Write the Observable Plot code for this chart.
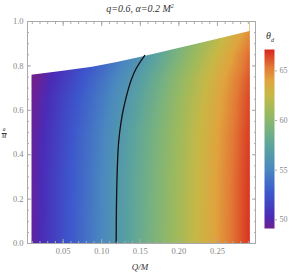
<!DOCTYPE html>
<html><head><meta charset="utf-8">
<script src="https://cdn.jsdelivr.net/npm/d3@7"></script>
<script src="https://cdn.jsdelivr.net/npm/@observablehq/plot@0.6"></script>
<style>
body{margin:0;background:#fff;}
#wrap{position:relative;width:291px;height:275px;overflow:hidden;font-family:"Liberation Serif",serif;}
#wrap svg{position:absolute;}
.lbl{position:absolute;white-space:nowrap;line-height:1;}
</style></head><body><div id="wrap"></div>
<script>
// ---- data ----
const gridQ = [0, 0.05, 0.1, 0.15, 0.2, 0.25, 0.3];
const gridA = [0, 0.3, 0.5, 0.65, 0.75, 0.85, 0.95, 1.0];
const thetaTable = [
  [49.0, 52.2, 55.1, 58.2, 61.2, 64.3, 67.4],
  [48.95, 52.14, 55.03, 58.12, 61.13, 64.24, 67.35],
  [48.85, 51.97, 54.85, 57.9, 60.95, 64.08, 67.2],
  [48.65, 51.65, 54.45, 57.4, 60.6, 63.8, 67.0],
  [48.3, 51.2, 53.95, 56.9, 60.2, 63.5, 66.7],
  [48.0, 50.5, 53.1, 55.9, 59.4, 62.8, 66.3],
  [47.7, 50.0, 52.4, 55.2, 58.5, 61.8, 65.4],
  [47.5, 49.8, 52.0, 54.7, 58.0, 61.3, 64.9]
];
const boundaryQ = [0.009, 0.05, 0.088, 0.12, 0.157, 0.19, 0.226, 0.26, 0.292];
const boundaryA = [0.758, 0.776, 0.794, 0.815, 0.844, 0.871, 0.900, 0.928, 0.955];
const contourQ = [0.1187, 0.1190, 0.1200, 0.1221, 0.1286, 0.1415, 0.1558];
const contourA = [0, 0.15, 0.315, 0.464, 0.614, 0.766, 0.847];
const xTicks = [0.05, 0.10, 0.15, 0.20, 0.25];
const yTicks = [0, 0.2, 0.4, 0.6, 0.8, 1.0];
const colorbarTicks = [50, 55, 60, 65];
const thetaRange = [49.12, 67.16];
const titleText = "q=0.6, α=0.2 M";

// ---- styling ----
const stops = [0, 0.07, 0.2, 0.33, 0.45, 0.55, 0.65, 0.75, 0.83, 0.9, 1];
const colors = ["#6f1f8f","#4a2cb8","#3d58cc","#4a88c0","#5aa2a0","#78b280","#9cba5e","#c8b846","#e0a43e","#e27a36","#d8261f"];
const ramp = d3.scaleLinear().domain(stops).range(colors).clamp(true);
const interp = t => ramp(t);

const grid = [];
gridA.forEach((a, i) => gridQ.forEach((q, j) => grid.push({Q: q, a: a, theta: thetaTable[i][j]})));
const boundary = boundaryQ.map((q, i) => ({Q: q, a: boundaryA[i]}));
const contour = contourQ.map((q, i) => ({Q: q, a: contourA[i]}));

const xDomain = [0.0038, 0.2993];
const xMinor = d3.range(0.01, 0.295, 0.01);
const yMinor = d3.range(0.05, 1.0, 0.05);
const gray = "#aaa";
const labelColor = "#888";

const main = Plot.plot({
  width: 291, height: 275,
  marginLeft: 27, marginRight: 36, marginTop: 21, marginBottom: 32,
  style: {fontFamily: "Liberation Serif, serif", fontSize: "8.5px", background: "transparent"},
  x: {domain: xDomain},
  y: {domain: [0, 1]},
  color: {type: "linear", domain: thetaRange, interpolate: interp},
  marks: [
    Plot.raster(grid, {x: "Q", y: "a", fill: "theta", interpolate: "barycentric",
      x1: boundaryQ[0], x2: boundaryQ[boundaryQ.length - 1], y1: 0, y2: 1}),
    Plot.areaY(boundary, {x: "Q", y1: "a", y2: 1, fill: "white"}),
    Plot.line(contour, {x: "Q", y: "a", stroke: "#111", strokeWidth: 1.3, curve: "catmull-rom"}),
    Plot.frame({stroke: gray}),
    Plot.axisX(xTicks, {anchor: "bottom", tickSize: 0, tickPadding: 4, tickFormat: d3.format(".2f"), fill: labelColor, label: null}),
    Plot.axisX(xTicks, {anchor: "bottom", tickSize: -4, text: null, stroke: gray, label: null}),
    Plot.axisX(xMinor, {anchor: "bottom", tickSize: -2, text: null, stroke: gray, label: null}),
    Plot.axisX(xTicks, {anchor: "top", tickSize: -4, text: null, stroke: gray, label: null}),
    Plot.axisX(xMinor, {anchor: "top", tickSize: -2, text: null, stroke: gray, label: null}),
    Plot.axisY(yTicks, {anchor: "left", tickSize: 0, tickPadding: 4, tickFormat: d3.format(".1f"), fill: labelColor, label: null}),
    Plot.axisY(yTicks, {anchor: "left", tickSize: -4, text: null, stroke: gray, label: null}),
    Plot.axisY(yMinor, {anchor: "left", tickSize: -2, text: null, stroke: gray, label: null}),
    Plot.axisY(yTicks, {anchor: "right", tickSize: -4, text: null, stroke: gray, label: null}),
    Plot.axisY(yMinor, {anchor: "right", tickSize: -2, text: null, stroke: gray, label: null})
  ]
});
main.style.left = "0px"; main.style.top = "0px";

const bar = Plot.plot({
  width: 36, height: 200,
  marginLeft: 9, marginRight: 17, marginTop: 9, marginBottom: 12,
  style: {fontFamily: "Liberation Serif, serif", fontSize: "8px", background: "transparent"},
  x: {domain: [0, 1], axis: null},
  y: {domain: thetaRange},
  color: {type: "linear", domain: thetaRange, interpolate: interp},
  marks: [
    Plot.raster({fill: (x, y) => y, x1: 0, x2: 1, y1: thetaRange[0], y2: thetaRange[1]}),
    Plot.axisY(colorbarTicks, {anchor: "right", tickSize: 2, tickPadding: 3, stroke: gray, fill: labelColor, label: null})
  ]
});
bar.style.left = "255px"; bar.style.top = "40px";

const wrap = document.getElementById("wrap");
wrap.appendChild(main);
wrap.appendChild(bar);

function addLabel(html, css) {
  const d = document.createElement("div");
  d.className = "lbl";
  d.innerHTML = html;
  Object.assign(d.style, css);
  wrap.appendChild(d);
  return d;
}
addLabel(titleText + "<sup style='font-size:6px'>2</sup>", {left: "140px", top: "3px", transform: "translateX(-50%)", fontSize: "10px", fontStyle: "italic", color: "#333"});
addLabel("Q/M", {left: "140px", top: "263px", transform: "translateX(-50%)", fontSize: "9px", fontStyle: "italic", color: "#333"});
addLabel("<span style='display:block;border-bottom:0.6px solid #333;padding:0 0.5px'>a</span><span style='display:block'>M</span>",
  {left: "4px", top: "127px", transform: "translateX(-50%)", fontSize: "5.5px", fontStyle: "italic", color: "#333", textAlign: "center"});
addLabel("θ<sub style='font-size:6px'>d</sub>", {left: "270px", top: "31px", transform: "translateX(-50%)", fontSize: "10px", fontStyle: "italic", color: "#333"});
</script></body></html>
